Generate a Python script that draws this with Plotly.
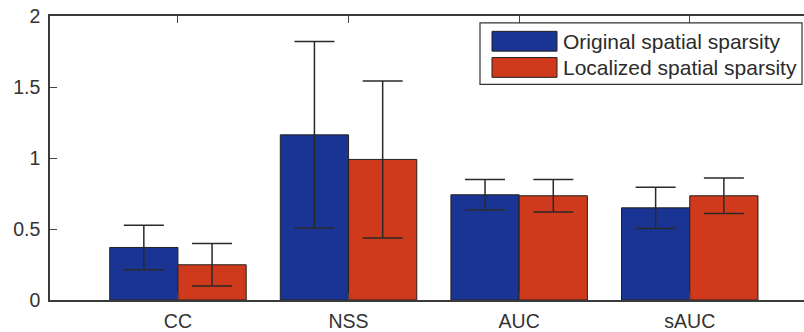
import plotly.graph_objects as go

categories = ["CC", "NSS", "AUC", "sAUC"]
series_names = ["Original spatial sparsity", "Localized spatial sparsity"]
original_mean = [0.37, 1.163, 0.741, 0.649]
original_err = [0.157, 0.658, 0.107, 0.145]
localized_mean = [0.248, 0.99, 0.734, 0.734]
localized_err = [0.15, 0.553, 0.115, 0.125]
y_ticks = [0, 0.5, 1, 1.5, 2]
y_ticklabels = ["0", "0.5", "1", "1.5", "2"]

colors = ["#1a3493", "#cf3a1c"]
W, H = 804, 332
ML, MR, MT, MB = 50, 0, 16, 29
pw, ph = W - ML - MR, H - MT - MB
FONT = "Liberation Sans, Arial, Helvetica, sans-serif"

xs = list(range(1, len(categories) + 1))

fig = go.Figure()
for name, means, errs, c in [
    (series_names[0], original_mean, original_err, colors[0]),
    (series_names[1], localized_mean, localized_err, colors[1]),
]:
    fig.add_trace(go.Bar(
        x=xs, y=means, name=name,
        marker=dict(color=c, line=dict(color="#222222", width=1)),
        error_y=dict(type="data", array=errs, visible=True,
                     color="#2a2a2a", thickness=1.5, width=20),
        showlegend=False,
    ))

def px2paper(x, y):
    return (x - ML) / pw, (H - MB - y) / ph

shapes = []
annotations = []
# legend box
x0, y0 = px2paper(480, 23)
x1, y1 = px2paper(802, 85)
shapes.append(dict(type="rect", xref="paper", yref="paper", x0=x0, y0=y1, x1=x1, y1=y0,
                   line=dict(color="#333333", width=1.2), fillcolor="white", layer="above"))
for i, (name, c) in enumerate(zip(series_names, colors)):
    top = 31.5 + i * 26.5
    a0, b0 = px2paper(492, top)
    a1, b1 = px2paper(557, top + 20)
    shapes.append(dict(type="rect", xref="paper", yref="paper", x0=a0, y0=b1, x1=a1, y1=b0,
                       line=dict(color="#222222", width=1), fillcolor=c, layer="above"))
    tx, ty = px2paper(561, top + 10)
    annotations.append(dict(xref="paper", yref="paper", x=tx, y=ty, text=name,
                            showarrow=False, xanchor="left", yanchor="middle",
                            font=dict(size=21, color="#2b2b2b", family=FONT)))

fig.update_layout(
    width=W, height=H,
    margin=dict(l=ML, r=MR, t=MT, b=MB, pad=0),
    paper_bgcolor="white", plot_bgcolor="white",
    barmode="group", bargap=0.2, bargroupgap=0,
    font=dict(family=FONT, size=19, color="#333333"),
    shapes=shapes, annotations=annotations,
    xaxis=dict(range=[0.25, 0.25 + pw / 170.6], tickmode="array", tickvals=xs, ticktext=categories,
               showline=True, linecolor="#3a3a3a", linewidth=1.5, mirror="ticks",
               ticks="inside", ticklen=7, tickcolor="#444444", showgrid=False, zeroline=False,
               tickfont=dict(size=19.5), ticklabelstandoff=3),
    yaxis=dict(range=[0, 2], tickmode="array", tickvals=y_ticks, ticktext=y_ticklabels,
               showline=True, linecolor="#3a3a3a", linewidth=1.5, mirror=False,
               ticks="inside", ticklen=7, tickcolor="#444444", showgrid=False, zeroline=False,
               tickfont=dict(size=19.5), ticklabelstandoff=4),
)
fig.write_html("out.html", config={"displayModeBar": False},
               post_script="document.body.style.margin='0';document.body.style.overflow='hidden';")
